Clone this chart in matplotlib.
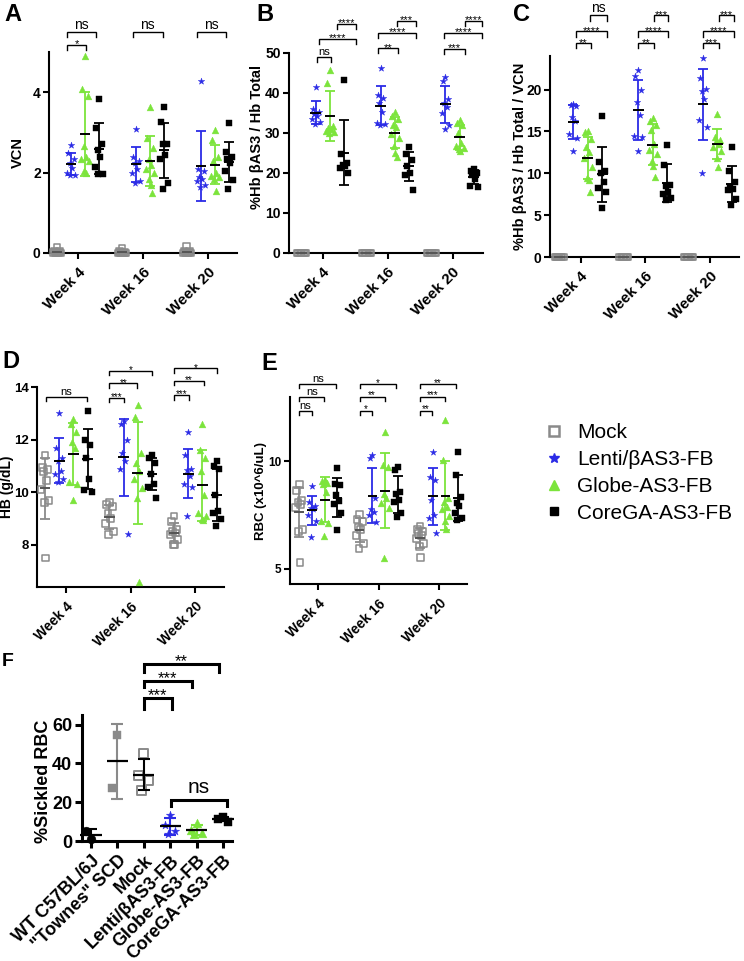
import numpy as np
import matplotlib.pyplot as plt
from matplotlib.lines import Line2D

plt.rcParams['font.family'] = ['Liberation Sans', 'DejaVu Sans']

weeks = ['Week 4', 'Week 16', 'Week 20']
groups = ['Mock', 'Lenti/βAS3-FB', 'Globe-AS3-FB', 'CoreGA-AS3-FB']

# A: VCN (one list per week)
vcn_mock = [[0.15, 0.05, 0.03, 0.02, 0.02, 0.01, 0.0, 0.0],
            [0.12, 0.04, 0.02, 0.01, 0.0, 0.0, 0.0, 0.0],
            [0.17, 0.05, 0.03, 0.02, 0.01, 0.0, 0.0, 0.0, 0.0]]
vcn_lenti = [[2.68, 2.48, 2.35, 2.25, 2.12, 2.0, 1.94, 1.93],
             [3.08, 2.38, 2.3, 2.25, 2.1, 2.0, 1.78, 1.73],
             [4.28, 2.1, 2.05, 1.9, 1.85, 1.8, 1.68, 1.65]]
vcn_globe = [[4.9, 4.08, 3.9, 2.67, 2.4, 2.33, 2.3, 2.05, 2.0],
             [3.62, 2.85, 2.6, 2.35, 2.2, 2.1, 2.0, 1.85, 1.7, 1.5],
             [3.05, 2.82, 2.4, 2.3, 2.0, 1.92, 1.88, 1.85, 1.55]]
vcn_core = [[3.83, 3.1, 2.72, 2.57, 2.4, 2.15, 1.97, 1.97],
            [3.62, 3.25, 2.72, 2.7, 2.45, 2.35, 1.75, 1.58],
            [3.23, 2.52, 2.4, 2.35, 2.25, 2.05, 1.82, 1.58]]

# B: %Hb bAS3 / Hb total
frac_mock = [[0, 0, 0, 0, 0, 0, 0, 0],
             [0, 0, 0, 0, 0, 0, 0, 0],
             [0, 0, 0, 0, 0, 0, 0, 0]]
frac_lenti = [[41.5, 36.0, 35.3, 34.8, 34.3, 33.5, 32.8, 32.3],
              [46.3, 39.5, 38.8, 37.5, 35.3, 32.5, 32.2, 32.0],
              [44.0, 43.0, 38.5, 37.5, 36.5, 35.0, 32.0, 31.0]]
frac_globe = [[45.8, 42.5, 31.8, 31.2, 31.0, 30.6, 30.3, 30.0],
              [35.3, 34.3, 33.5, 32.0, 31.5, 29.8, 28.7, 26.8, 25.0, 24.0],
              [33.3, 32.5, 32.0, 30.0, 27.5, 26.8, 26.3, 26.0, 25.5]]
frac_core = [[43.3, 24.7, 22.5, 22.0, 21.7, 21.3, 20.0],
             [26.5, 24.8, 23.3, 21.7, 20.0, 19.5, 15.8],
             [21.0, 20.6, 20.0, 19.5, 18.5, 16.7, 16.5]]

# C: %Hb bAS3 / Hb total / VCN
ratio_mock = [[0, 0, 0, 0, 0, 0, 0, 0],
              [0, 0, 0, 0, 0, 0, 0, 0],
              [0, 0, 0, 0, 0, 0, 0, 0]]
ratio_lenti = [[18.3, 18.2, 18.0, 16.7, 16.2, 14.7, 14.2, 12.7],
               [22.3, 21.6, 20.0, 18.5, 16.9, 14.4, 14.3, 12.6],
               [23.8, 21.4, 20.1, 19.8, 18.9, 16.3, 15.5, 10.0]]
ratio_globe = [[15.0, 14.9, 14.1, 13.1, 12.5, 11.8, 10.8, 9.4, 9.2, 7.8],
               [16.6, 16.2, 15.8, 15.2, 13.5, 12.8, 12.3, 11.5, 10.9, 9.5],
               [17.1, 14.3, 14.0, 13.9, 13.5, 13.1, 12.7, 11.8, 10.8]]
ratio_core = [[16.8, 11.3, 10.3, 10.0, 8.9, 8.2, 7.8, 5.8],
              [13.4, 11.0, 8.6, 8.5, 7.8, 7.5, 7.0, 6.8],
              [13.1, 10.3, 9.0, 8.4, 8.1, 8.0, 6.9, 6.2]]

# D: HB (g/dL)
hgb_mock = [[11.4, 10.95, 10.85, 10.8, 10.45, 10.1, 9.7, 9.6, 7.5],
            [9.6, 9.55, 9.45, 9.2, 9.0, 8.8, 8.5, 8.4],
            [9.1, 8.9, 8.6, 8.5, 8.45, 8.4, 8.2, 8.0, 8.0]]
hgb_lenti = [[13.0, 11.7, 11.3, 11.2, 10.8, 10.7, 10.5, 10.4],
             [12.7, 12.6, 12.0, 11.5, 11.2, 10.9, 8.4],
             [12.3, 11.4, 10.9, 10.85, 10.6, 10.3, 10.2, 9.1]]
hgb_globe = [[12.8, 12.6, 12.3, 11.9, 11.7, 10.4, 10.3, 9.7],
             [13.3, 12.85, 11.5, 11.1, 10.8, 10.5, 10.15, 9.8, 6.6],
             [12.6, 11.6, 11.3, 10.8, 9.9, 9.2, 9.1, 9.0, 8.95]]
hgb_core = [[13.1, 12.0, 11.8, 11.3, 10.5, 10.1, 10.0],
            [11.4, 11.3, 11.1, 10.7, 10.3, 10.2, 9.8],
            [11.2, 11.0, 10.9, 9.9, 9.3, 9.2, 9.0, 8.7]]

# E: RBC (x10^6/uL)
rbc_mock = [[8.95, 8.65, 8.2, 8.1, 8.0, 7.85, 6.85, 6.75, 5.3],
            [7.55, 7.3, 7.2, 6.95, 6.85, 6.55, 6.2, 5.95],
            [7.0, 6.85, 6.75, 6.65, 6.55, 6.4, 6.2, 6.05, 5.55]]
rbc_lenti = [[8.85, 8.1, 7.95, 7.85, 7.8, 7.5, 7.25, 6.5],
             [10.3, 10.15, 8.3, 7.8, 7.65, 7.5, 7.2],
             [10.45, 9.3, 9.15, 8.2, 7.5, 7.35, 6.65]]
rbc_globe = [[9.15, 9.1, 9.0, 8.95, 8.6, 7.25, 7.15, 6.55],
             [11.35, 9.85, 9.75, 8.5, 8.3, 8.05, 7.85, 5.5],
             [11.95, 10.05, 8.3, 8.1, 7.9, 7.8, 7.45, 7.25, 6.85]]
rbc_core = [[9.7, 8.95, 8.9, 8.45, 8.15, 8.0, 7.6, 6.8],
            [9.75, 9.6, 8.6, 8.5, 8.2, 8.1, 7.6, 7.4],
            [10.45, 9.35, 8.35, 8.05, 7.95, 7.6, 7.35, 7.3]]

# F: % sickled RBC
sickle_labels = ['WT C57BL/6J', '"Townes" SCD', 'Mock',
                 'Lenti/βAS3-FB', 'Globe-AS3-FB', 'CoreGA-AS3-FB']
sickle_wt = [0.8, 5.2]
sickle_townes = [54.7, 27.5]
sickle_mock = [45.3, 33.8, 31.3, 26.2]
sickle_lenti = [13.5, 8.0, 5.0, 3.5]
sickle_globe = [9.5, 5.5, 4.0, 3.5]
sickle_core = [12.5, 11.5, 10.0]

GRAY = '#8a8a8a'
BLUE = '#2b2be6'
GREEN = '#7ce43c'
STYLES = [
    dict(marker='s', fc='none', ec=GRAY, err=GRAY, mean='#555555', lw=1.1),
    dict(marker='*', fc=BLUE, ec=BLUE, err=BLUE, mean='black', lw=0.3),
    dict(marker='^', fc=GREEN, ec=GREEN, err=GREEN, mean='black', lw=0.3),
    dict(marker='s', fc='black', ec='black', err='black', mean='black', lw=0.3),
]
JIT = [0.0, -0.2, 0.2, -0.1, 0.1, -0.28, 0.28, -0.05, 0.05, 0.15]


def px_axes(fig, l, t, r, b):
    W, H = 744, 961
    return fig.add_axes([l / W, 1 - b / H, (r - l) / W, (b - t) / H])


def draw_group(ax, x, vals, st, size=24, mw=0.38, cap=3.5, elw=1.3):
    vals = np.asarray(vals, float)
    offs = np.array([JIT[k % len(JIT)] for k in range(len(vals))])
    ax.scatter(x + offs, vals, marker=st['marker'], s=size, facecolors=st['fc'],
               edgecolors=st['ec'], linewidths=st['lw'], zorder=3, clip_on=False)
    m = vals.mean()
    sd = vals.std(ddof=1)
    ax.errorbar(x, m, yerr=sd, fmt='none', ecolor=st['err'], elinewidth=elw,
                capsize=cap, capthick=elw, zorder=4, clip_on=False)
    ax.plot([x - mw, x + mw], [m, m], color=st['mean'], lw=elw + 0.1, zorder=5,
            solid_capstyle='butt', clip_on=False)


def bracket(ax, x1, x2, y, h, label, fs=8, lw=1.0, dy=0.0):
    ax.plot([x1, x1, x2, x2], [y - h, y, y, y - h], color='black', lw=lw,
            clip_on=False, solid_joinstyle='miter')
    ax.text((x1 + x2) / 2, y + dy, label, ha='center', va='bottom',
            fontsize=fs, clip_on=False)


def style_axes(ax, xlim, ylim, yticks, ylabel, ticks, ticklabels,
               fs_tick=10, fs_x=10, fs_label=10.5, lw=1.5, xpad=5):
    for s in ['top', 'right']:
        ax.spines[s].set_visible(False)
    for s in ['left', 'bottom']:
        ax.spines[s].set_linewidth(lw)
    ax.set_xlim(xlim)
    ax.set_ylim(ylim)
    ax.set_yticks(yticks)
    ax.set_yticklabels([str(t) for t in yticks], fontweight='bold', fontsize=fs_tick)
    ax.set_xticks(ticks)
    ax.set_xticklabels(ticklabels, rotation=45, ha='right', rotation_mode='anchor',
                       fontweight='bold', fontsize=fs_x)
    ax.tick_params(width=lw, length=4, pad=2)
    ax.tick_params(axis='x', pad=xpad)
    ax.set_ylabel(ylabel, fontweight='bold', fontsize=fs_label)


def week_panel(ax, series, G, xlim, ylim, yticks, ylabel, brackets, h,
               star_fs=8, ns_fs=9, fs_tick=10, fs_x=11, fs_label=10.5):
    for g in range(3):
        for i, data in enumerate(series):
            draw_group(ax, g * G + i, data[g], STYLES[i])
    style_axes(ax, xlim, ylim, yticks, ylabel,
               [g * G + 1.5 for g in range(3)], weeks,
               fs_tick=fs_tick, fs_x=fs_x, fs_label=fs_label)
    for g, a, b, y, lab in brackets:
        if lab == 'ns':
            bracket(ax, g * G + a, g * G + b, y, h, lab, fs=ns_fs, dy=0)
        else:
            bracket(ax, g * G + a, g * G + b, y, h, lab, fs=star_fs, dy=-h * 0.9)


fig = plt.figure(figsize=(7.44, 9.61), dpi=100)

# A
axA = px_axes(fig, 49, 52, 237, 253)
week_panel(axA, [vcn_mock, vcn_lenti, vcn_globe, vcn_core], 4.64, (-0.57, 12.86),
           (0, 5), [0, 2, 4], 'VCN',
           [(0, 0.75, 2.8, 5.5, 'ns'), (0, 0.75, 2.05, 5.17, '*'),
            (1, 0.8, 2.9, 5.5, 'ns'), (2, 0.75, 2.8, 5.5, 'ns')], 0.12, ns_fs=10)
axA.yaxis.set_label_coords(-0.13, 0.5)

# B
axB = px_axes(fig, 289, 53, 483, 253)
week_panel(axB, [frac_mock, frac_lenti, frac_globe, frac_core], 4.6, (-0.9, 12.86),
           (0, 50), [0, 10, 20, 30, 40, 50], '%Hb βAS3 / Hb Total',
           [(0, 1.1, 2.05, 49.0, 'ns'), (0, 1.25, 3.85, 53.6, '****'),
            (0, 2.5, 3.85, 57.3, '****'),
            (1, 0.83, 2.25, 51.2, '**'), (1, 0.83, 3.5, 55.0, '****'),
            (1, 2.17, 3.5, 58.0, '***'),
            (2, 0.87, 2.36, 51.1, '***'), (2, 0.87, 3.62, 55.0, '****'),
            (2, 2.36, 3.62, 58.0, '****')], 1.25, ns_fs=8)
axB.yaxis.set_label_coords(-0.13, 0.58)

# C
axC = px_axes(fig, 550, 56, 739, 257)
week_panel(axC, [ratio_mock, ratio_lenti, ratio_globe, ratio_core], 4.5, (-0.63, 12.5),
           (0, 24), [0, 5, 10, 15, 20], '%Hb βAS3 / Hb Total / VCN',
           [(0, 1.15, 2.2, 25.6, '**'), (0, 1.15, 3.3, 27.0, '****'),
            (0, 2.15, 3.3, 28.9, 'ns'),
            (1, 1.0, 2.1, 25.6, '**'), (1, 1.0, 3.1, 27.0, '****'),
            (1, 2.1, 3.1, 28.9, '***'),
            (2, 1.0, 2.1, 25.6, '***'), (2, 1.0, 3.15, 27.0, '****'),
            (2, 2.1, 3.15, 28.9, '***')], 0.7, ns_fs=10)
axC.yaxis.set_label_coords(-0.12, 0.5)

# D
axD = px_axes(fig, 37, 387, 224, 587)
week_panel(axD, [hgb_mock, hgb_lenti, hgb_globe, hgb_core], 4.54, (-0.56, 12.6),
           (6.4, 14), [8, 10, 12, 14], 'HB (g/dL)',
           [(0, 0.1, 2.95, 13.63, 'ns'),
            (1, 0.0, 1.0, 13.6, '***'), (1, 0.0, 1.95, 14.14, '**'),
            (1, 0.0, 3.0, 14.62, '*'),
            (2, 0.0, 1.05, 13.7, '***'), (2, 0.0, 2.1, 14.24, '**'),
            (2, 0.0, 3.0, 14.71, '*')], 0.18, star_fs=7, ns_fs=8,
           fs_tick=9.5, fs_x=10, fs_label=10)
axD.yaxis.set_label_coords(-0.125, 0.5)

# E
axE = px_axes(fig, 290, 397, 467, 584)
week_panel(axE, [rbc_mock, rbc_lenti, rbc_globe, rbc_core], 4.75, (-0.73, 13.2),
           (4.3, 13), [5, 10], 'RBC (x10^6/uL)',
           [(0, 0.0, 0.97, 12.36, 'ns'), (0, 0.0, 1.95, 13.0, 'ns'),
            (0, 0.0, 2.9, 13.6, 'ns'),
            (1, 0.0, 0.97, 12.36, '*'), (1, 0.0, 1.97, 13.0, '**'),
            (1, 0.0, 2.85, 13.6, '*'),
            (2, 0.0, 0.95, 12.36, '**'), (2, 0.0, 1.97, 13.0, '***'),
            (2, 0.0, 2.85, 13.6, '**')], 0.18, star_fs=7, ns_fs=8,
           fs_tick=8.5, fs_x=10, fs_label=9.5)
axE.yaxis.set_label_coords(-0.13, 0.5)

# F
axF = px_axes(fig, 82, 715, 232, 841)
f_series = [sickle_wt, sickle_townes, sickle_mock, sickle_lenti, sickle_globe, sickle_core]
f_styles = [
    dict(marker='o', fc='black', ec='black', err='black', mean='black', lw=0.3),
    dict(marker='s', fc=GRAY, ec=GRAY, err=GRAY, mean='black', lw=0.3),
    dict(marker='s', fc='none', ec=GRAY, err='black', mean='black', lw=1.4),
    STYLES[1], STYLES[2], STYLES[3],
]
for i, (vals, st) in enumerate(zip(f_series, f_styles)):
    draw_group(axF, i, vals, st, size=40, mw=0.4, cap=4, elw=1.5)
style_axes(axF, (-0.34, 5.34), (0, 65), [0, 20, 40, 60], '%Sickled RBC',
           range(len(sickle_labels)), sickle_labels, fs_tick=13, fs_x=13,
           fs_label=13, lw=2.2, xpad=3)
axF.tick_params(length=5)
axF.yaxis.set_label_coords(-0.2, 0.47)
for a, b, y, h, lab in [(2.0, 3.05, 73.7, 5.7, '***'), (2.0, 3.82, 82.6, 3.1, '***'),
                        (2.0, 4.83, 91.1, 3.9, '**')]:
    bracket(axF, a, b, y, h, lab, fs=12, lw=2.2, dy=-2.5)
bracket(axF, 3.04, 5.15, 21.4, 3.5, 'ns', fs=15, lw=2.2, dy=1.5)

# legend
handles = [
    Line2D([], [], marker='s', ls='none', mfc='none', mec=GRAY, mew=1.8, ms=7),
    Line2D([], [], marker='*', ls='none', color=BLUE, ms=7),
    Line2D([], [], marker='^', ls='none', color=GREEN, ms=7),
    Line2D([], [], marker='s', ls='none', color='black', ms=6),
]
fig.legend(handles, groups, loc='upper left', bbox_to_anchor=(546 / 744, 1 - 423 / 961),
           frameon=False, fontsize=15, handlelength=0.8, handletextpad=0.7,
           labelspacing=0.38, borderpad=0, borderaxespad=0)

# panel letters
for lab, x, y, fs in [('A', 4, 3, 17), ('B', 256, 3, 17), ('C', 513, 3, 17),
                      ('D', 2, 350, 17), ('E', 261, 352, 17), ('F', 2, 653, 14)]:
    fig.text(x / 744, 1 - y / 961, lab, fontsize=fs, fontweight='bold',
             ha='left', va='top')

fig.savefig('out.png', dpi=100)
